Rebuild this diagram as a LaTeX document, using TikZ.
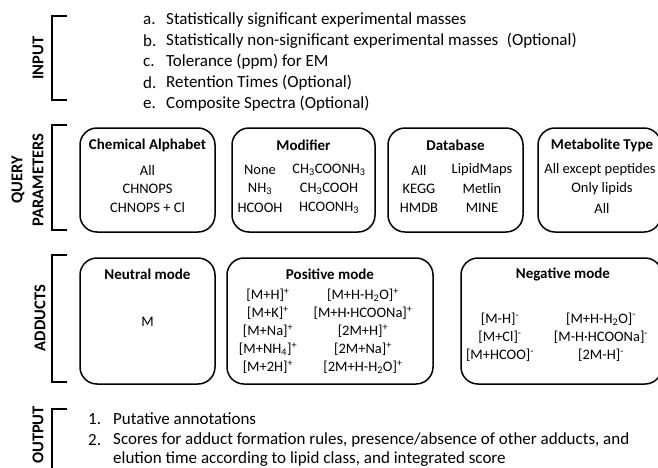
\documentclass[tikz,border=0pt]{standalone}
\usepackage{fontspec}
\setmainfont{Carlito}
\begin{document}
\begin{tikzpicture}[x=1pt,y=-1pt,
  box/.style={draw=black,line width=1.5pt,rounded corners=17pt,inner sep=0pt},
  brk/.style={draw=black,line width=1.7pt},
  sect/.style={font=\fontsize{16.5}{17}\selectfont\bfseries,rotate=90,inner sep=0pt},
  ttl/.style={font=\fontsize{15}{16}\selectfont\bfseries,inner sep=0pt},
  itm/.style={font=\fontsize{14.5}{15}\selectfont,inner sep=0pt},
  lst/.style={font=\fontsize{17}{18}\selectfont,inner sep=0pt,anchor=west},
]
\useasboundingbox[fill=white] (0,0) rectangle (658,467);
\newcommand{\sP}{\textsuperscript{+}}
\newcommand{\sM}{\textsuperscript{-}}
\newcommand{\sub}[1]{\textsubscript{#1}}

% ---------- brackets ----------
\draw[brk] (67,16) -- (52,16) -- (52,100) -- (67,100);
\draw[brk] (67,125) -- (52,125) -- (52,230) -- (67,230);
\draw[brk] (67,255) -- (52,255) -- (52,382) -- (67,382);
\draw[brk] (67,409) -- (52,409) -- (52,480);

% ---------- section labels ----------
\node[sect] (lin) at (38,58) {INPUT};
\node[sect] (lq1) at (18,180) {QUERY};
\node[sect] (lq2) at (38,180) {PARAMETERS};
\node[sect] (lad) at (40,318) {ADDUCTS};
\node[sect] (lout) at (38,435) {OUTPUT};

% ---------- input list ----------
\foreach \y/\l/\t [count=\i] in {20/a./Statistically significant experimental masses,
  41/b./{Statistically non-significant experimental masses\enspace(Optional)},
  62/c./Tolerance (ppm) for EM,
  83/d./Retention Times (Optional),
  104/e./Composite Spectra (Optional)}{
  \node[lst] (inl\i) at (143,\y) {\l};
  \node[lst] (int\i) at (166,\y) {\t};
}

% ---------- query parameter boxes ----------
\node[box,minimum width=135pt,minimum height=104pt] (bca) at (147.5,180) {};
\node[box,minimum width=143pt,minimum height=104pt] (bmo) at (303.5,180) {};
\node[box,minimum width=135pt,minimum height=104pt] (bdb) at (455.5,180) {};
\node[box,minimum width=123pt,minimum height=104pt] (bmt) at (599.5,180) {};

\node[ttl] (tca) at (147.5,145) {Chemical Alphabet};
\node[itm] (ca1) at (147.5,170) {All};
\node[itm] (ca2) at (147.5,189) {CHNOPS};
\node[itm] (ca3) at (147.5,208) {CHNOPS + Cl};

\node[ttl] (tmo) at (303.5,145) {Modifier};
\node[itm] (mo1) at (260,170) {None};
\node[itm] (mo2) at (260,189) {NH\sub{3}};
\node[itm] (mo3) at (260,208) {HCOOH};
\node[itm] (mo4) at (329,170) {CH\sub{3}COONH\sub{3}};
\node[itm] (mo5) at (329,189) {CH\sub{3}COOH};
\node[itm] (mo6) at (329,208) {HCOONH\sub{3}};

\node[ttl] (tdb) at (455.5,145) {Database};
\node[itm] (db1) at (419,170) {All};
\node[itm] (db2) at (419,189) {KEGG};
\node[itm] (db3) at (419,208) {HMDB};
\node[itm] (db4) at (482,170) {LipidMaps};
\node[itm] (db5) at (482,189) {Metlin};
\node[itm] (db6) at (482,208) {MINE};

\node[ttl] (tmt) at (602,145) {Metabolite Type};
\node[itm] (mt1) at (600,170) {All except peptides};
\node[itm] (mt2) at (602,189) {Only lipids};
\node[itm] (mt3) at (602,208) {All};

% ---------- adduct boxes ----------
\node[box,minimum width=135pt,minimum height=126pt] (bne) at (147.5,321) {};
\node[box,minimum width=206pt,minimum height=126pt] (bpo) at (330,321) {};
\node[box,minimum width=201pt,minimum height=126pt] (bng) at (561.5,321) {};

\node[ttl] (tne) at (147.5,274) {Neutral mode};
\node[itm] (ne1) at (147.5,322) {M};

\node[ttl] (tpo) at (330,274) {Positive mode};
\node[itm] (po1) at (268,295) {[M+H]\sP};
\node[itm] (po2) at (268,313) {[M+K]\sP};
\node[itm] (po3) at (268,331) {[M+Na]\sP};
\node[itm] (po4) at (268,349) {[M+NH\sub{4}]\sP};
\node[itm] (po5) at (268,367) {[M+2H]\sP};
\node[itm] (po6) at (363,295) {[M+H-H\sub{2}O]\sP};
\node[itm] (po7) at (363,313) {[M+H·HCOONa]\sP};
\node[itm] (po8) at (363,331) {[2M+H]\sP};
\node[itm] (po9) at (363,349) {[2M+Na]\sP};
\node[itm] (po10) at (363,367) {[2M+H-H\sub{2}O]\sP};

\node[ttl] (tng) at (563,274) {Negative mode};
\node[itm] (ng1) at (500,319) {[M-H]\sM};
\node[itm] (ng2) at (500,337) {[M+Cl]\sM};
\node[itm] (ng3) at (500,355) {[M+HCOO]\sM};
\node[itm] (ng4) at (601,319) {[M+H-H\sub{2}O]\sM};
\node[itm] (ng5) at (601,337) {[M-H·HCOONa]\sM};
\node[itm] (ng6) at (601,355) {[2M-H]\sM};

% ---------- output list ----------
\node[lst] (ol1) at (88,419) {1.};
\node[lst] (ot1) at (113,419) {Putative annotations};
\node[lst] (ol2) at (88,440) {2.};
\node[lst] (ot2) at (113,440) {Scores for adduct formation rules, presence/absence of other adducts, and};
\node[lst] (ot3) at (113,459) {elution time according to lipid class, and integrated score};
\end{tikzpicture}
\end{document}
